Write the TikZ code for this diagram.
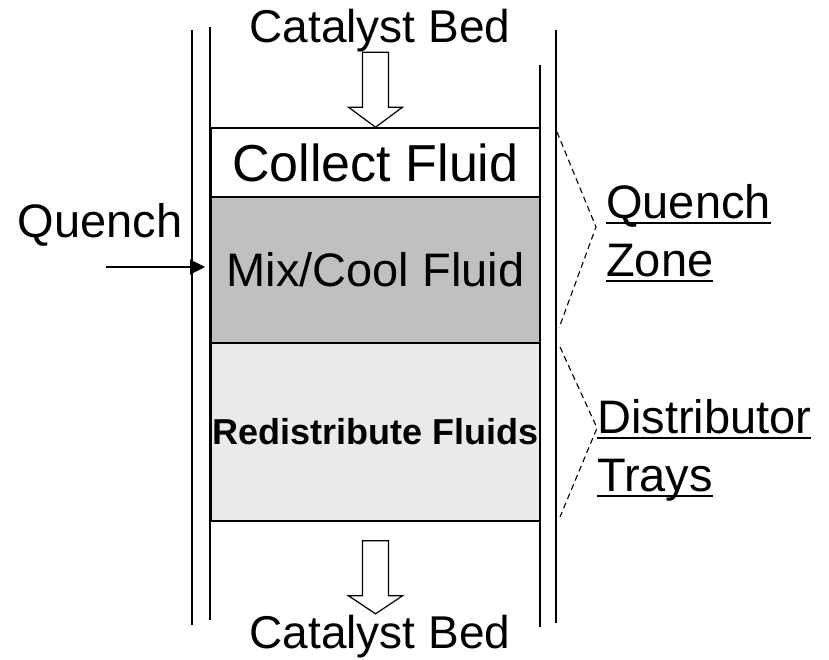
\documentclass[tikz,border=0pt]{standalone}
\usepackage{fontspec}
\setmainfont{Liberation Sans}
\usetikzlibrary{arrows.meta,positioning}
\definecolor{mixgray}{HTML}{C0C0C0}
\definecolor{trayfill}{HTML}{EAEAEA}
\newcommand{\underword}[1]{\setbox0\hbox{#1}\rlap{\rule[-0.13em]{\wd0}{0.05em}}\box0}
\tikzset
{
    wall/.style = {line width=1.4pt},
    zone/.style = {rectangle, draw=black, line width=1.6pt, inner sep=0pt, minimum width=329pt, align=center},
    flow/.style = {draw=black, line width=1.2pt, fill=white, line join=miter},
    bracket/.style = {line width=1.1pt, dash pattern=on 6pt off 4pt},
    sidetext/.style = {inner sep=0pt, align=left, anchor=north west, font=\fontsize{47}{58}\selectfont},
    bedtext/.style = {inner sep=0pt, anchor=base, font=\fontsize{46}{46}\selectfont},
    arrow/.style = {line width=1.2pt, -{Triangle[length=15pt,width=15pt]}}
}
\begin{document}
\begin{tikzpicture}[x=1pt, y=-1pt]
	\useasboundingbox (0,0) rectangle (829,660);

	\draw [wall] (192,30) -- (192,625);
	\draw [wall] (210,27) -- (210,620);
	\draw [wall] (540,65) -- (540,627);
	\draw [wall] (556,30) -- (556,623);

	\node (collect) [zone, fill=white, minimum height=69pt, font=\fontsize{52}{52}\selectfont] at (375.5,162.5) {Collect Fluid};
	\node (mix) [zone, fill=mixgray, minimum height=146pt, font=\fontsize{47}{47}\selectfont] at (375.5,270) {Mix/Cool Fluid};
	\node (redist) [zone, fill=trayfill, minimum height=178pt, font=\bfseries\fontsize{36}{36}\selectfont] at (375.5,432) {Redistribute Fluids};

	\node (topbed) [bedtext] at (380,43) {Catalyst Bed};
	\node (botbed) [bedtext] at (380,648) {Catalyst Bed};
	\node (quench) [inner sep=0pt, anchor=base, font=\fontsize{47}{47}\selectfont] at (100,237) {Quench};

	\node (qzone) [sidetext] at (606,184) {\underword{Quench}\\\underword{Zone}};
	\node (dzone) [sidetext] at (597,399) {\underword{Distributor}\\\underword{Trays}};

	\draw [flow] (collect.north) -- ++(-27,-20) -- ++(14,0) -- ++(0,-55) -- ++(26,0) -- ++(0,55) -- ++(14,0) -- cycle;
	\draw [flow] ([yshift=-19pt]redist.south) ++(-13,0) -- ++(26,0) -- ++(0,55) -- ++(14,0) -- ++(-27,18) -- ++(-27,-18) -- ++(14,0) -- cycle;

	\coordinate (qin) at (106,267);
	\draw [arrow] (qin) -- ++(99,0);

	\coordinate (qtip) at (596,227);
	\coordinate (dtip) at (597,428);
	\draw [bracket] (557,132) -- (qtip) -- (559,328);
	\draw [bracket] (560,347) -- (dtip) -- (560,517);

\end{tikzpicture}
\end{document}
